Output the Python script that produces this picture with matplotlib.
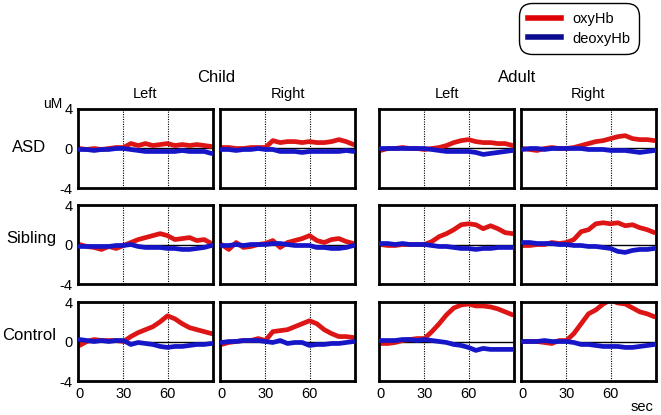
import matplotlib.pyplot as plt

plt.rcParams['font.family'] = ['Liberation Sans', 'DejaVu Sans']

# time axis (sec)
t = [0, 5, 10, 15, 20, 25, 30, 35, 40, 45, 50, 55, 60, 65, 70, 75, 80, 85, 90]

groups = ['Child', 'Adult']
sides = ['Left', 'Right']
rows = ['ASD', 'Sibling', 'Control']

# oxyHb / deoxyHb (uM), one list per panel
child_asd_left_oxy = [0.0, -0.1, 0.0, -0.1, 0.0, 0.1, 0.1, 0.5, 0.3, 0.5, 0.3, 0.4, 0.5, 0.3, 0.4, 0.3, 0.4, 0.3, 0.2]
child_asd_left_deoxy = [-0.1, -0.1, -0.2, -0.1, -0.1, 0.0, 0.0, -0.1, -0.2, -0.3, -0.3, -0.3, -0.3, -0.3, -0.2, -0.3, -0.3, -0.3, -0.5]
child_asd_right_oxy = [0.1, 0.1, 0.0, 0.0, 0.1, 0.1, 0.1, 0.8, 0.6, 0.7, 0.7, 0.6, 0.7, 0.6, 0.6, 0.7, 0.9, 0.7, 0.4]
child_asd_right_deoxy = [-0.1, -0.1, -0.2, -0.1, -0.1, 0.0, -0.1, -0.1, -0.3, -0.3, -0.3, -0.4, -0.3, -0.3, -0.3, -0.3, -0.3, -0.2, -0.3]

child_sib_left_oxy = [0.0, -0.2, -0.3, -0.5, -0.2, -0.4, -0.1, 0.2, 0.5, 0.7, 0.9, 1.1, 0.9, 0.5, 0.6, 0.7, 0.4, 0.5, 0.1]
child_sib_left_deoxy = [-0.2, -0.2, -0.2, -0.2, -0.2, -0.1, -0.1, 0.0, -0.2, -0.3, -0.3, -0.3, -0.4, -0.4, -0.5, -0.5, -0.4, -0.3, -0.1]
child_sib_right_oxy = [0.0, -0.5, 0.2, -0.3, -0.2, 0.0, 0.1, 0.4, -0.3, 0.2, 0.4, 0.6, 0.9, 0.4, 0.2, 0.5, 0.6, 0.3, 0.1]
child_sib_right_deoxy = [-0.1, -0.1, 0.0, -0.1, 0.0, 0.0, 0.0, 0.1, 0.1, 0.0, -0.1, -0.1, -0.1, -0.3, -0.3, -0.4, -0.4, -0.3, -0.1]

child_ctl_left_oxy = [-0.4, 0.0, 0.2, 0.1, 0.1, 0.1, 0.0, 0.5, 0.9, 1.2, 1.5, 2.0, 2.6, 2.3, 1.8, 1.4, 1.2, 1.0, 0.8]
child_ctl_left_deoxy = [0.2, 0.1, 0.0, 0.1, 0.0, 0.1, 0.1, -0.3, -0.1, -0.2, -0.3, -0.5, -0.6, -0.5, -0.5, -0.4, -0.3, -0.3, -0.2]
child_ctl_right_oxy = [-0.3, -0.1, 0.0, 0.1, 0.1, 0.3, 0.1, 1.0, 1.1, 1.2, 1.5, 1.8, 2.1, 1.8, 1.2, 0.8, 0.5, 0.5, 0.4]
child_ctl_right_deoxy = [-0.1, 0.0, 0.0, 0.1, 0.1, 0.1, 0.0, -0.1, 0.1, -0.2, -0.1, -0.1, -0.4, -0.3, -0.3, -0.2, -0.2, -0.1, 0.0]

adult_asd_left_oxy = [-0.2, 0.0, 0.0, 0.1, 0.0, 0.0, -0.1, 0.0, 0.1, 0.3, 0.6, 0.8, 0.9, 0.7, 0.6, 0.6, 0.5, 0.5, 0.3]
adult_asd_left_deoxy = [0.0, 0.0, 0.0, 0.0, 0.0, 0.0, 0.0, -0.1, -0.2, -0.3, -0.3, -0.3, -0.3, -0.4, -0.6, -0.5, -0.4, -0.3, -0.2]
adult_asd_right_oxy = [0.0, -0.1, -0.2, 0.0, 0.1, 0.0, 0.0, 0.1, 0.3, 0.5, 0.7, 0.8, 1.0, 1.2, 1.3, 1.0, 0.9, 0.9, 0.8]
adult_asd_right_deoxy = [-0.1, 0.0, 0.0, -0.1, 0.0, 0.0, 0.0, 0.0, 0.0, -0.1, -0.1, -0.1, -0.2, -0.2, -0.2, -0.3, -0.4, -0.3, -0.2]

adult_sib_left_oxy = [0.0, -0.1, -0.1, 0.0, 0.0, 0.0, 0.0, 0.3, 0.8, 1.1, 1.5, 2.0, 2.1, 2.0, 1.6, 1.9, 1.6, 1.2, 1.1]
adult_sib_left_deoxy = [0.1, 0.1, 0.0, 0.1, 0.0, 0.0, 0.0, -0.1, -0.2, -0.2, -0.3, -0.4, -0.4, -0.5, -0.4, -0.4, -0.3, -0.3, -0.3]
adult_sib_right_oxy = [-0.1, -0.1, 0.0, 0.0, 0.2, 0.1, 0.2, 0.5, 1.3, 1.5, 2.1, 2.2, 2.1, 2.2, 1.9, 2.0, 1.7, 1.5, 1.2]
adult_sib_right_deoxy = [0.2, 0.2, 0.1, 0.1, 0.1, 0.0, 0.0, -0.1, -0.1, -0.2, -0.2, -0.3, -0.4, -0.7, -0.8, -0.6, -0.5, -0.5, -0.4]

adult_ctl_left_oxy = [-0.2, -0.2, -0.1, 0.1, 0.2, 0.3, 0.3, 1.0, 1.8, 2.7, 3.4, 3.7, 3.8, 3.6, 3.6, 3.5, 3.3, 3.0, 2.7]
adult_ctl_left_deoxy = [0.1, 0.1, 0.1, 0.2, 0.2, 0.1, 0.2, 0.1, 0.0, -0.1, -0.3, -0.4, -0.6, -0.9, -0.7, -0.8, -0.8, -0.8, -0.8]
adult_ctl_right_oxy = [0.0, 0.0, 0.0, -0.1, -0.2, 0.1, 0.1, 0.8, 1.8, 2.8, 3.2, 3.8, 4.2, 3.9, 3.8, 3.4, 3.0, 2.8, 2.5]
adult_ctl_right_deoxy = [0.0, 0.0, 0.0, 0.1, 0.0, 0.0, 0.0, -0.1, -0.3, -0.3, -0.4, -0.5, -0.5, -0.5, -0.6, -0.6, -0.5, -0.4, -0.3]

panels = {
    ('ASD', 'Child', 'Left'): (child_asd_left_oxy, child_asd_left_deoxy),
    ('ASD', 'Child', 'Right'): (child_asd_right_oxy, child_asd_right_deoxy),
    ('ASD', 'Adult', 'Left'): (adult_asd_left_oxy, adult_asd_left_deoxy),
    ('ASD', 'Adult', 'Right'): (adult_asd_right_oxy, adult_asd_right_deoxy),
    ('Sibling', 'Child', 'Left'): (child_sib_left_oxy, child_sib_left_deoxy),
    ('Sibling', 'Child', 'Right'): (child_sib_right_oxy, child_sib_right_deoxy),
    ('Sibling', 'Adult', 'Left'): (adult_sib_left_oxy, adult_sib_left_deoxy),
    ('Sibling', 'Adult', 'Right'): (adult_sib_right_oxy, adult_sib_right_deoxy),
    ('Control', 'Child', 'Left'): (child_ctl_left_oxy, child_ctl_left_deoxy),
    ('Control', 'Child', 'Right'): (child_ctl_right_oxy, child_ctl_right_deoxy),
    ('Control', 'Adult', 'Left'): (adult_ctl_left_oxy, adult_ctl_left_deoxy),
    ('Control', 'Adult', 'Right'): (adult_ctl_right_oxy, adult_ctl_right_deoxy),
}

W, H = 661, 415
fig = plt.figure(figsize=(W / 100, H / 100), dpi=100)

# panel placement in pixels
col_x = {('Child', 'Left'): 78, ('Child', 'Right'): 220, ('Adult', 'Left'): 379, ('Adult', 'Right'): 521}
row_y = {'ASD': 109, 'Sibling': 205, 'Control': 302}
pw, ph = 135, 79

red = '#dd1515'
blue = '#1616c8'

for (row, grp, side), (oxy, deoxy) in panels.items():
    x0 = col_x[(grp, side)]
    y0 = row_y[row]
    ax = fig.add_axes([x0 / W, 1 - (y0 + ph) / H, pw / W, ph / H])
    ax.axhline(0, color='black', lw=1.0, zorder=1)
    ax.axvline(30, color='black', lw=0.8, ls=(0, (1, 1.2)), zorder=1)
    ax.axvline(60, color='black', lw=0.8, ls=(0, (1, 1.2)), zorder=1)
    ax.plot(t, oxy, color=red, lw=3.4, solid_capstyle='round', zorder=2)
    ax.plot(t, deoxy, color=blue, lw=3.4, solid_capstyle='round', zorder=3)
    ax.set_xlim(-1, 91)
    ax.set_ylim(-4, 4)
    for s in ax.spines.values():
        s.set_linewidth(2.0)
    ax.tick_params(length=0, labelsize=10.5, pad=4)
    if grp == 'Child' and side == 'Left':
        ax.set_yticks([4, 0, -4])
        ax.set_yticklabels(['4', '0', '-4'])
    else:
        ax.set_yticks([])
    if row == 'Control':
        ax.set_xticks([0, 30, 60])
    else:
        ax.set_xticks([])

# headers
fig.text(216 / W, 1 - 77 / H, 'Child', ha='center', va='center', fontsize=12)
fig.text(517 / W, 1 - 77 / H, 'Adult', ha='center', va='center', fontsize=12)
for (grp, side), x0 in col_x.items():
    fig.text((x0 + pw / 2) / W, 1 - 94 / H, side, ha='center', va='center', fontsize=10.5)

fig.text(53 / W, 1 - 104 / H, 'uM', ha='center', va='center', fontsize=10)
fig.text(29 / W, 1 - 148 / H, 'ASD', ha='center', va='center', fontsize=12)
fig.text(31 / W, 1 - 238 / H, 'Sibling', ha='center', va='center', fontsize=12)
fig.text(29 / W, 1 - 335 / H, 'Control', ha='center', va='center', fontsize=12)
fig.text(642 / W, 1 - 407 / H, 'sec', ha='center', va='center', fontsize=10.5)

# legend
h1, = plt.plot([], [], color='#e00000', lw=4)
h2, = plt.plot([], [], color='#0c0c90', lw=4)
leg = fig.legend([h1, h2], ['oxyHb', 'deoxyHb'], loc='upper right',
                 bbox_to_anchor=(639 / W, 1 - 3 / H), borderaxespad=0,
                 fontsize=10.5, handlelength=2.3, handletextpad=0.75,
                 borderpad=0.6, labelspacing=0.4, fancybox=True,
                 framealpha=1, edgecolor='black')
leg.get_frame().set_linewidth(1.0)
leg.get_frame().set_boxstyle('round', pad=0, rounding_size=0.9)

fig.savefig('out.png', dpi=100)
